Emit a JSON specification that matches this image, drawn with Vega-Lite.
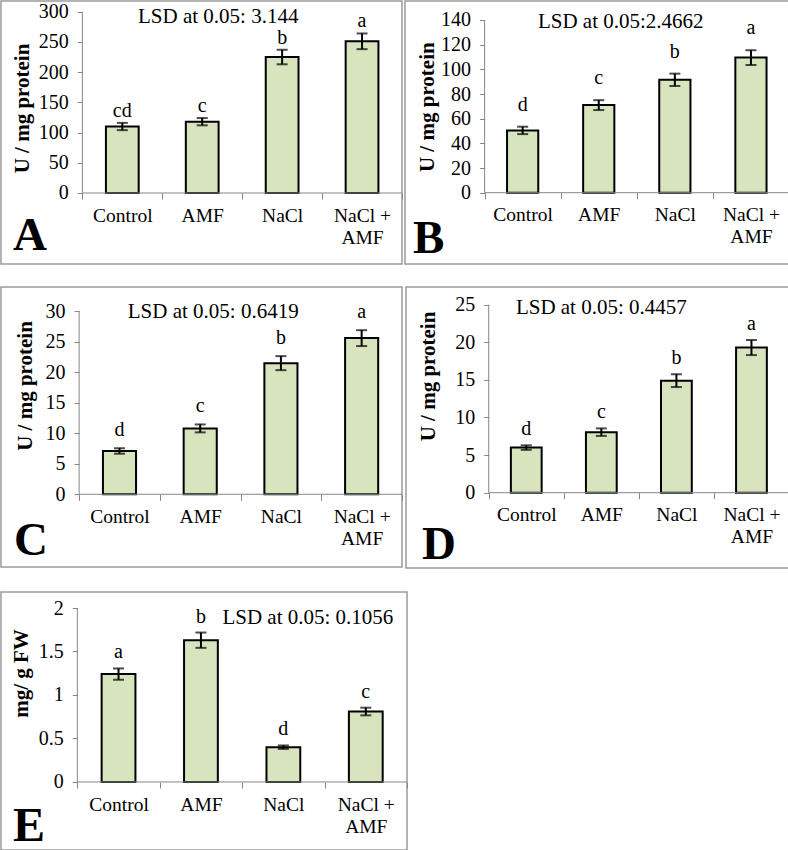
{
 "$schema": "https://vega.github.io/schema/vega-lite/v6.json",
 "padding": 0,
 "background": "white",
 "datasets": {
  "A": [
   {"treatment": "Control", "value": 110, "lo": 104, "hi": 116, "letter": "cd"},
   {"treatment": "AMF", "value": 118, "lo": 112, "hi": 124, "letter": "c"},
   {"treatment": "NaCl", "value": 225, "lo": 213, "hi": 237, "letter": "b"},
   {"treatment": "NaCl + AMF", "value": 251, "lo": 238, "hi": 264, "letter": "a"}
  ],
  "B": [
   {"treatment": "Control", "value": 50.5, "lo": 47.5, "hi": 53.5, "letter": "d"},
   {"treatment": "AMF", "value": 71, "lo": 67, "hi": 75, "letter": "c"},
   {"treatment": "NaCl", "value": 91.5, "lo": 86.5, "hi": 96.5, "letter": "b"},
   {"treatment": "NaCl + AMF", "value": 109.5, "lo": 103.5, "hi": 115.5, "letter": "a"}
  ],
  "C": [
   {"treatment": "Control", "value": 7.1, "lo": 6.65, "hi": 7.55, "letter": "d"},
   {"treatment": "AMF", "value": 10.8, "lo": 10.15, "hi": 11.45, "letter": "c"},
   {"treatment": "NaCl", "value": 21.5, "lo": 20.35, "hi": 22.65, "letter": "b"},
   {"treatment": "NaCl + AMF", "value": 25.6, "lo": 24.3, "hi": 26.9, "letter": "a"}
  ],
  "D": [
   {"treatment": "Control", "value": 6.0, "lo": 5.7, "hi": 6.3, "letter": "d"},
   {"treatment": "AMF", "value": 8.05, "lo": 7.55, "hi": 8.55, "letter": "c"},
   {"treatment": "NaCl", "value": 14.9, "lo": 14.05, "hi": 15.75, "letter": "b"},
   {"treatment": "NaCl + AMF", "value": 19.3, "lo": 18.3, "hi": 20.3, "letter": "a"}
  ],
  "E": [
   {"treatment": "Control", "value": 1.24, "lo": 1.175, "hi": 1.305, "letter": "a"},
   {"treatment": "AMF", "value": 1.63, "lo": 1.542, "hi": 1.718, "letter": "b"},
   {"treatment": "NaCl", "value": 0.40, "lo": 0.38, "hi": 0.42, "letter": "d"},
   {"treatment": "NaCl + AMF", "value": 0.81, "lo": 0.766, "hi": 0.854, "letter": "c"}
  ]
 },
 "vconcat": [
  {
   "vconcat": [
    {
     "hconcat": [
      {
       "width": 401, "height": 263,
       "data": {"name": "A"},
       "title": {"text": "A", "orient": "bottom", "anchor": "start", "frame": "group", "baseline": "alphabetic", "offset": -14, "dx": 12, "fontSize": 47},
       "layer": [
        {"mark": {"type": "bar", "fill": "#d7e4bd", "stroke": "black", "strokeWidth": 2, "width": {"band": 0.41}},
         "encoding": {
          "x": {"field": "treatment", "type": "nominal", "sort": null, "scale": {"domain": ["Control", "AMF", "NaCl", "NaCl + AMF"], "paddingInner": 0, "paddingOuter": 0.509, "align": 1}, "axis": {"offset": -71, "title": null}},
          "y": {"field": "value", "type": "quantitative", "title": "U / mg protein", "scale": {"domain": [-117.5, 317.7], "nice": false, "zero": false}, "axis": {"offset": -81.3, "values": [0, 50, 100, 150, 200, 250, 300], "tickCount": 30, "format": ".4~g", "labelOverlap": false, "titleX": -54, "titleY": 107}}
         }},
        {"mark": {"type": "errorbar", "color": "black", "thickness": 2, "ticks": {"size": 11, "thickness": 2, "color": "black"}, "rule": {"strokeWidth": 2, "color": "black"}},
         "encoding": {"x": {"field": "treatment", "type": "nominal", "title": null}, "y": {"field": "lo", "type": "quantitative", "title": "U / mg protein"}, "y2": {"field": "hi"}}},
        {"mark": {"type": "text", "baseline": "alphabetic", "dy": -6, "fontSize": 20, "color": "black"},
         "encoding": {"x": {"field": "treatment", "type": "nominal", "title": null}, "y": {"field": "hi", "type": "quantitative", "title": "U / mg protein"}, "text": {"field": "letter"}}},
        {"data": {"values": [{"label": "LSD at 0.05: 3.144"}]},
         "mark": {"type": "text", "fontSize": 21, "color": "black", "baseline": "middle", "dx": 16},
         "encoding": {"x": {"datum": "AMF"}, "y": {"datum": 292}, "text": {"field": "label"}}},
        {"data": {"values": [{}]}, "mark": {"type": "rule", "color": "#868686"},
         "encoding": {"x": {"datum": "Control", "bandPosition": 0}, "y": {"datum": 0}, "y2": {"datum": 300}}},
        {"data": {"values": [{}]}, "mark": {"type": "rule", "color": "#868686"},
         "encoding": {"x": {"datum": "Control", "bandPosition": 0}, "x2": {"datum": "NaCl + AMF", "bandPosition": 1}, "y": {"datum": 0}}}
       ]
      },
      {
       "width": 384, "height": 263,
       "data": {"name": "B"},
       "title": {"text": "B", "orient": "bottom", "anchor": "start", "frame": "group", "baseline": "alphabetic", "offset": -11, "dx": 8, "fontSize": 47},
       "layer": [
        {"mark": {"type": "bar", "fill": "#d7e4bd", "stroke": "black", "strokeWidth": 2, "width": {"band": 0.41}},
         "encoding": {
          "x": {"field": "treatment", "type": "nominal", "sort": null, "scale": {"domain": ["Control", "AMF", "NaCl", "NaCl + AMF"], "paddingInner": 0, "paddingOuter": 0.523, "align": 1}, "axis": {"offset": -71.3, "title": null}},
          "y": {"field": "value", "type": "quantitative", "title": "U / mg protein", "scale": {"domain": [-57.8, 155.4], "nice": false, "zero": false}, "axis": {"offset": -79.6, "values": [0, 20, 40, 60, 80, 100, 120, 140], "tickCount": 30, "format": ".4~g", "labelOverlap": false, "titleX": -51.6, "titleY": 105.7}}
         }},
        {"mark": {"type": "errorbar", "color": "black", "thickness": 2, "ticks": {"size": 11, "thickness": 2, "color": "black"}, "rule": {"strokeWidth": 2, "color": "black"}},
         "encoding": {"x": {"field": "treatment", "type": "nominal", "title": null}, "y": {"field": "lo", "type": "quantitative", "title": "U / mg protein"}, "y2": {"field": "hi"}}},
        {"mark": {"type": "text", "baseline": "alphabetic", "dy": -16, "fontSize": 20, "color": "black"},
         "encoding": {"x": {"field": "treatment", "type": "nominal", "title": null}, "y": {"field": "hi", "type": "quantitative", "title": "U / mg protein"}, "text": {"field": "letter"}}},
        {"data": {"values": [{"label": "LSD at 0.05:2.4662"}]},
         "mark": {"type": "text", "fontSize": 21, "color": "black", "baseline": "middle", "dx": 22},
         "encoding": {"x": {"datum": "AMF"}, "y": {"datum": 138}, "text": {"field": "label"}}},
        {"data": {"values": [{}]}, "mark": {"type": "rule", "color": "#868686"},
         "encoding": {"x": {"datum": "Control", "bandPosition": 0}, "y": {"datum": 0}, "y2": {"datum": 140}}},
        {"data": {"values": [{}]}, "mark": {"type": "rule", "color": "#868686"},
         "encoding": {"x": {"datum": "Control", "bandPosition": 0}, "x2": {"datum": "NaCl + AMF", "bandPosition": 1}, "y": {"datum": 0}}}
       ]
      }
     ],
     "spacing": 0
    },
    {
     "hconcat": [
      {
       "width": 401, "height": 280,
       "data": {"name": "C"},
       "title": {"text": "C", "orient": "bottom", "anchor": "start", "frame": "group", "baseline": "alphabetic", "offset": -12.5, "dx": 13, "fontSize": 47},
       "layer": [
        {"mark": {"type": "bar", "fill": "#d7e4bd", "stroke": "black", "strokeWidth": 2, "width": {"band": 0.41}},
         "encoding": {
          "x": {"field": "treatment", "type": "nominal", "sort": null, "scale": {"domain": ["Control", "AMF", "NaCl", "NaCl + AMF"], "paddingInner": 0, "paddingOuter": 0.484, "align": 1}, "axis": {"offset": -72.7, "title": null}},
          "y": {"field": "value", "type": "quantitative", "title": "U / mg protein", "scale": {"domain": [-11.92, 33.98], "nice": false, "zero": false}, "axis": {"offset": -78.1, "values": [0, 5, 10, 15, 20, 25, 30], "tickCount": 30, "format": ".4~g", "labelOverlap": false, "titleX": -47.4, "titleY": 98.5}}
         }},
        {"mark": {"type": "errorbar", "color": "black", "thickness": 2, "ticks": {"size": 11, "thickness": 2, "color": "black"}, "rule": {"strokeWidth": 2, "color": "black"}},
         "encoding": {"x": {"field": "treatment", "type": "nominal", "title": null}, "y": {"field": "lo", "type": "quantitative", "title": "U / mg protein"}, "y2": {"field": "hi"}}},
        {"mark": {"type": "text", "baseline": "alphabetic", "dy": -12, "fontSize": 20, "color": "black"},
         "encoding": {"x": {"field": "treatment", "type": "nominal", "title": null}, "y": {"field": "hi", "type": "quantitative", "title": "U / mg protein"}, "text": {"field": "letter"}}},
        {"data": {"values": [{"label": "LSD at 0.05: 0.6419"}]},
         "mark": {"type": "text", "fontSize": 21, "color": "black", "baseline": "middle", "dx": 13},
         "encoding": {"x": {"datum": "AMF"}, "y": {"datum": 29.9}, "text": {"field": "label"}}},
        {"data": {"values": [{}]}, "mark": {"type": "rule", "color": "#868686"},
         "encoding": {"x": {"datum": "Control", "bandPosition": 0}, "y": {"datum": 0}, "y2": {"datum": 30}}},
        {"data": {"values": [{}]}, "mark": {"type": "rule", "color": "#868686"},
         "encoding": {"x": {"datum": "Control", "bandPosition": 0}, "x2": {"datum": "NaCl + AMF", "bandPosition": 1}, "y": {"datum": 0}}}
       ]
      },
      {
       "width": 383, "height": 281,
       "data": {"name": "D"},
       "title": {"text": "D", "orient": "bottom", "anchor": "start", "frame": "group", "baseline": "alphabetic", "offset": -9.5, "dx": 16, "fontSize": 47},
       "layer": [
        {"mark": {"type": "bar", "fill": "#d7e4bd", "stroke": "black", "strokeWidth": 2, "width": {"band": 0.41}},
         "encoding": {
          "x": {"field": "treatment", "type": "nominal", "sort": null, "scale": {"domain": ["Control", "AMF", "NaCl", "NaCl + AMF"], "paddingInner": 0, "paddingOuter": 0.551, "align": 1}, "axis": {"offset": -75.3, "title": null}},
          "y": {"field": "value", "type": "quantitative", "title": "U / mg protein", "scale": {"domain": [-10.01, 27.35], "nice": false, "zero": false}, "axis": {"offset": -82.7, "values": [0, 5, 10, 15, 20, 25], "tickCount": 30, "format": ".4~g", "labelOverlap": false, "titleX": -54.4, "titleY": 89}}
         }},
        {"mark": {"type": "errorbar", "color": "black", "thickness": 2, "ticks": {"size": 11, "thickness": 2, "color": "black"}, "rule": {"strokeWidth": 2, "color": "black"}},
         "encoding": {"x": {"field": "treatment", "type": "nominal", "title": null}, "y": {"field": "lo", "type": "quantitative", "title": "U / mg protein"}, "y2": {"field": "hi"}}},
        {"mark": {"type": "text", "baseline": "alphabetic", "dy": -10, "fontSize": 20, "color": "black"},
         "encoding": {"x": {"field": "treatment", "type": "nominal", "title": null}, "y": {"field": "hi", "type": "quantitative", "title": "U / mg protein"}, "text": {"field": "letter"}}},
        {"data": {"values": [{"label": "LSD at 0.05: 0.4457"}]},
         "mark": {"type": "text", "fontSize": 21, "color": "black", "baseline": "middle", "dx": 0},
         "encoding": {"x": {"datum": "AMF"}, "y": {"datum": 24.6}, "text": {"field": "label"}}},
        {"data": {"values": [{}]}, "mark": {"type": "rule", "color": "#868686"},
         "encoding": {"x": {"datum": "Control", "bandPosition": 0}, "y": {"datum": 0}, "y2": {"datum": 25}}},
        {"data": {"values": [{}]}, "mark": {"type": "rule", "color": "#868686"},
         "encoding": {"x": {"datum": "Control", "bandPosition": 0}, "x2": {"datum": "NaCl + AMF", "bandPosition": 1}, "y": {"datum": 0}}}
       ]
      }
     ],
     "spacing": 1
    }
   ],
   "spacing": 21
  },
  {
   "width": 406, "height": 258,
   "data": {"name": "E"},
   "title": {"text": "E", "orient": "bottom", "anchor": "start", "frame": "group", "baseline": "alphabetic", "offset": -9, "dx": 12, "fontSize": 48},
   "layer": [
    {"mark": {"type": "bar", "fill": "#d7e4bd", "stroke": "black", "strokeWidth": 2, "width": {"band": 0.41}},
     "encoding": {
      "x": {"field": "treatment", "type": "nominal", "sort": null, "scale": {"domain": ["Control", "AMF", "NaCl", "NaCl + AMF"], "paddingInner": 0, "paddingOuter": 0.463, "align": 1}, "axis": {"offset": -68, "title": null}},
      "y": {"field": "value", "type": "quantitative", "title": "mg/ g FW", "scale": {"domain": [-0.782, 2.184], "nice": false, "zero": false}, "axis": {"offset": -76.3, "values": [0, 0.5, 1, 1.5, 2], "tickCount": 30, "format": ".4~g", "labelOverlap": false, "titleX": -50.3, "titleY": 81}}
     }},
    {"mark": {"type": "errorbar", "color": "black", "thickness": 2, "ticks": {"size": 11, "thickness": 2, "color": "black"}, "rule": {"strokeWidth": 2, "color": "black"}},
     "encoding": {"x": {"field": "treatment", "type": "nominal", "title": null}, "y": {"field": "lo", "type": "quantitative", "title": "mg/ g FW"}, "y2": {"field": "hi"}}},
    {"mark": {"type": "text", "baseline": "alphabetic", "dy": -10, "fontSize": 20, "color": "black"},
     "encoding": {"x": {"field": "treatment", "type": "nominal", "title": null}, "y": {"field": "hi", "type": "quantitative", "title": "mg/ g FW"}, "text": {"field": "letter"}}},
    {"data": {"values": [{"label": "LSD at 0.05: 0.1056"}]},
     "mark": {"type": "text", "fontSize": 21, "color": "black", "baseline": "middle", "dx": 24.5},
     "encoding": {"x": {"datum": "NaCl"}, "y": {"datum": 1.885}, "text": {"field": "label"}}},
    {"data": {"values": [{}]}, "mark": {"type": "rule", "color": "#868686"},
     "encoding": {"x": {"datum": "Control", "bandPosition": 0}, "y": {"datum": 0}, "y2": {"datum": 2}}},
    {"data": {"values": [{}]}, "mark": {"type": "rule", "color": "#868686"},
     "encoding": {"x": {"datum": "Control", "bandPosition": 0}, "x2": {"datum": "NaCl + AMF", "bandPosition": 1}, "y": {"datum": 0}}}
   ]
  }
 ],
 "spacing": 22,
 "config": {
  "font": "Liberation Serif",
  "view": {"stroke": "#9a9a9a", "strokeWidth": 1.5},
  "title": {"font": "Liberation Serif", "fontWeight": "bold", "color": "black"},
  "text": {"font": "Liberation Serif"},
  "axis": {"grid": false, "domain": false, "tickColor": "#868686", "labelColor": "black", "titleColor": "black", "labelFont": "Liberation Serif", "titleFont": "Liberation Serif"},
  "axisX": {"tickBand": "extent", "tickSize": 6, "labelPadding": 7, "labelFontSize": 19.5, "labelAngle": 0, "labelLineHeight": 22, "labelOverlap": false, "labelExpr": "datum.value == 'NaCl + AMF' ? ['NaCl +', 'AMF'] : datum.label"},
  "axisY": {"tickSize": 5, "labelPadding": 9, "labelFontSize": 20, "labelOverlap": false, "labelBound": false, "labelFlush": false, "titleFontSize": 21, "titleFontWeight": "bold", "titleAngle": -90, "titleBaseline": "alphabetic", "titleAlign": "center"}
 }
}
